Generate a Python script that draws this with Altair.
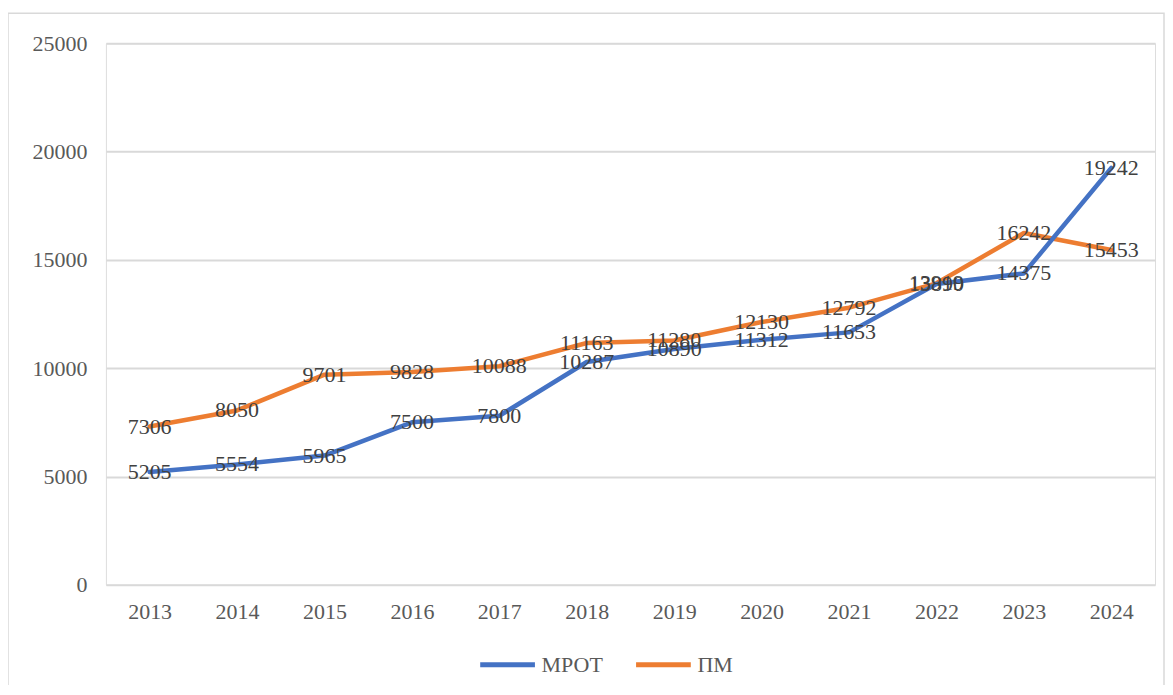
import altair as alt
import pandas as pd

years = ["2013", "2014", "2015", "2016", "2017", "2018", "2019", "2020", "2021", "2022", "2023", "2024"]
mrot = [5205, 5554, 5965, 7500, 7800, 10287, 10890, 11312, 11653, 13890, 14375, 19242]
pm = [7306, 8050, 9701, 9828, 10088, 11163, 11280, 12130, 12792, 13919, 16242, 15453]
series = ["МРОТ", "ПМ"]
colors = ["#4472C4", "#ED7D31"]
y_ticks = [0, 5000, 10000, 15000, 20000, 25000]

rows = []
for i, yr in enumerate(years):
    rows.append({"year": yr, "series": series[0], "value": mrot[i], "ord": 1})
    rows.append({"year": yr, "series": series[1], "value": pm[i], "ord": 0})
df = pd.DataFrame(rows)

FONT = "Liberation Serif"
FS = 22

x = alt.X("year:O", title=None, sort=years,
          scale=alt.Scale(type="point", padding=0.5),
          axis=alt.Axis(labelAngle=0, domain=False, ticks=False, labelPadding=17,
                        labelFont=FONT, labelFontSize=FS, labelColor="#595959"))
y = alt.Y("value:Q", title=None,
          scale=alt.Scale(domain=[0, 25000], nice=False),
          axis=alt.Axis(values=y_ticks, format="d", domain=False, ticks=False, labelPadding=19,
                        labelFont=FONT, labelFontSize=FS, labelColor="#595959",
                        gridColor="#d9d9d9", gridWidth=2))

color = alt.Color("series:N", sort=series,
                  scale=alt.Scale(domain=series, range=colors),
                  legend=alt.Legend(title=None, orient="none", direction="horizontal",
                                    legendX=372, legendY=592,
                                    symbolType="stroke", symbolSize=3000,
                                    symbolStrokeWidth=5, labelFont=FONT,
                                    labelFontSize=FS, labelColor="#595959",
                                    labelOffset=4, columnPadding=22))

frame = alt.Chart(pd.DataFrame({"a": [0]})).mark_rect(
    fill=None, stroke="#d9d9d9", strokeWidth=1.5
).encode(x=alt.value(-98), x2=alt.value(1059), y=alt.value(-30), y2=alt.value(643))

lines = alt.Chart(df).mark_line(strokeWidth=4.5, strokeCap="round", strokeJoin="round").encode(
    x=x, y=y, color=color, detail="series:N",
    order=alt.Order("ord:Q")
)

pm_line = lines.transform_filter(alt.datum.series == "ПМ")
mrot_line = lines.transform_filter(alt.datum.series == "МРОТ")

labels = alt.Chart(df).mark_text(font=FONT, fontSize=FS, color="#404040",
                                 baseline="middle", align="center").encode(
    x=alt.X("year:O", sort=years), y="value:Q", text="value:Q"
)

chart = alt.layer(frame, pm_line, mrot_line, labels).properties(
    width=1050, height=542,
    autosize=alt.AutoSizeParams(type="none"),
    padding={"left": 98, "top": 35, "right": 10, "bottom": 100}
).configure_view(stroke=None).configure(background="white")

chart.save("out.html", embed_options={"renderer": "svg", "actions": False})
